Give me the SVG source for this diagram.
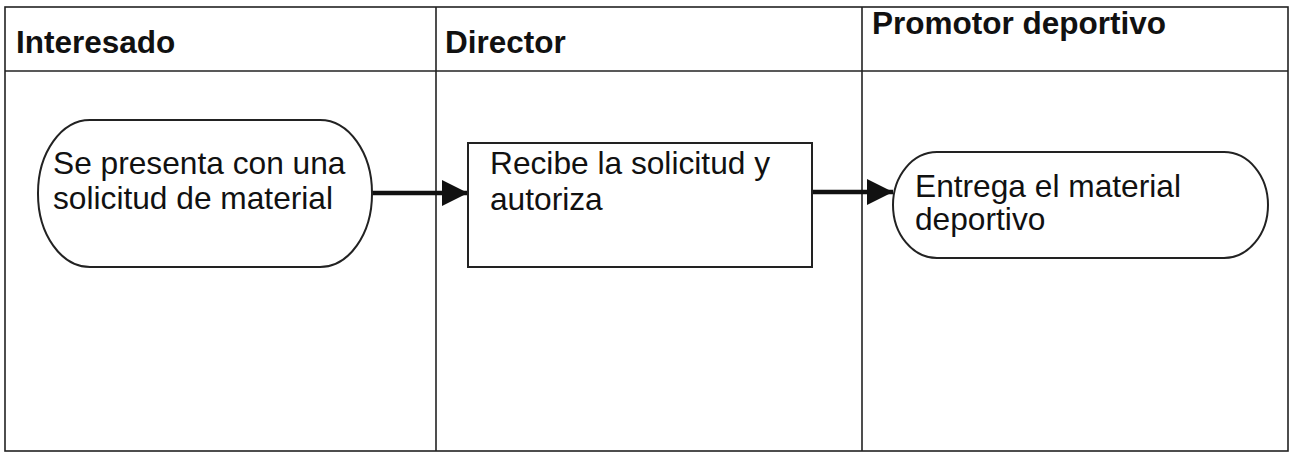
<svg xmlns="http://www.w3.org/2000/svg" width="1290" height="454" viewBox="0 0 1290 454">
<style>
.lane{fill:none;stroke:#222;stroke-width:1.6}
.hdr{font-family:"Liberation Sans",Arial,sans-serif;font-weight:bold;font-size:31.5px;fill:#111}
.txt{font-family:"Liberation Sans",Arial,sans-serif;font-size:31.7px;fill:#111}
.shape{fill:#fff;stroke:#222;stroke-width:2}
.conn{stroke:#111;stroke-width:4.5;fill:none}
</style>
<defs>
<marker id="ah" viewBox="0 0 10 10" refX="10" refY="5" markerUnits="userSpaceOnUse" markerWidth="30" markerHeight="26" orient="auto">
<path d="M0,0 L10,5 L0,10 Z" fill="#111"/>
</marker>
</defs>
<rect width="1290" height="454" fill="#fff"/>
<g id="lanes">
<rect class="lane" x="5" y="7" width="1283" height="444"/>
<line class="lane" x1="5" y1="71" x2="1288" y2="71"/>
<line class="lane" x1="436" y1="7" x2="436" y2="451"/>
<line class="lane" x1="862" y1="7" x2="862" y2="451"/>
<text class="hdr" x="16" y="53">Interesado</text>
<text class="hdr" x="445" y="53">Director</text>
<text class="hdr" x="872" y="34">Promotor deportivo</text>
</g>
<g id="connectors">
<line class="conn" x1="372" y1="193" x2="468" y2="193" marker-end="url(#ah)"/>
<line class="conn" x1="812" y1="192" x2="893" y2="192" marker-end="url(#ah)"/>
</g>
<g id="n1">
<rect class="shape" x="38" y="120" width="334" height="147" rx="52" ry="73"/>
<text class="txt" x="53" y="174">Se presenta con una</text>
<text class="txt" x="53" y="209">solicitud de material</text>
</g>
<g id="n2">
<rect class="shape" x="468" y="143" width="344" height="124"/>
<text class="txt" x="490" y="174">Recibe la solicitud y</text>
<text class="txt" x="490" y="210">autoriza</text>
</g>
<g id="n3">
<rect class="shape" x="893" y="152" width="375" height="106" rx="44" ry="53"/>
<text class="txt" x="915" y="197">Entrega el material</text>
<text class="txt" x="915" y="230">deportivo</text>
</g>
</svg>
